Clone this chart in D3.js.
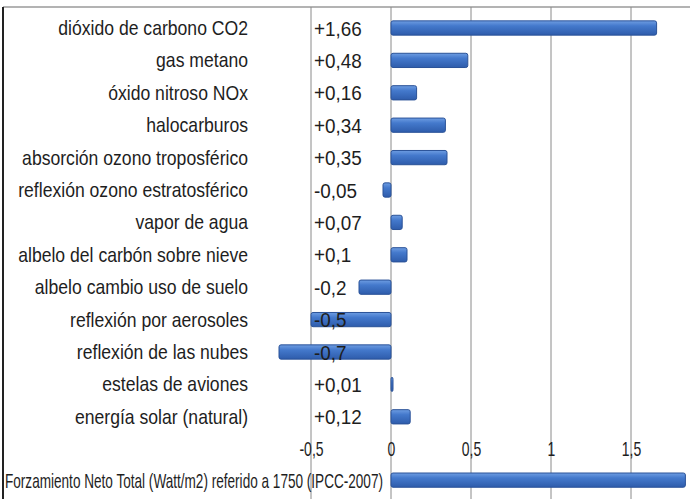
<!DOCTYPE html>
<html>
<head>
<meta charset="utf-8">
<script src="https://cdn.jsdelivr.net/npm/d3@7"></script>
<style>
    body { margin: 0; background: #fff; }
    svg { display: block; font-family: "Liberation Sans", Arial, sans-serif; }
</style>
</head>
<body>
<div id="chart"></div>
<script>
// data
const categories = [
    "dióxido de carbono CO2",
    "gas metano",
    "óxido nitroso NOx",
    "halocarburos",
    "absorción ozono troposférico",
    "reflexión ozono estratosférico",
    "vapor de agua",
    "albelo del carbón sobre nieve",
    "albelo cambio uso de suelo",
    "reflexión por aerosoles",
    "reflexión de las nubes",
    "estelas de aviones",
    "energía solar (natural)"
];
const values = [1.66, 0.48, 0.16, 0.34, 0.35, -0.05, 0.07, 0.1, -0.2, -0.5, -0.7, 0.01, 0.12];
const valueLabels = ["+1,66", "+0,48", "+0,16", "+0,34", "+0,35", "-0,05", "+0,07", "+0,1", "-0,2", "-0,5", "-0,7", "+0,01", "+0,12"];
const totalLabel = "Forzamiento Neto Total (Watt/m2) referido a 1750 (IPCC-2007)";
const totalValue = 1.84;
const tickValues = [-0.5, 0, 0.5, 1, 1.5];

const width = 690, height = 499;

let svg = d3.select("#chart")
    .append("svg")
    .attr("width", width)
    .attr("height", height);

// bar gradient (Excel 2007 look)
let grad = svg.append("defs").append("linearGradient")
    .attr("id", "barGrad")
    .attr("x1", 0).attr("y1", 0).attr("x2", 0).attr("y2", 1);
grad.append("stop").attr("offset", "0%").attr("stop-color", "#6e9de2");
grad.append("stop").attr("offset", "35%").attr("stop-color", "#4479cc");
grad.append("stop").attr("offset", "100%").attr("stop-color", "#2e5cab");

let x = d3.scaleLinear()
    .domain([-0.5, 1.5])
    .range([311, 631]);

let y = d3.scaleBand()
    .domain(categories)
    .range([11.8, 433])
    .paddingInner(0.56)
    .paddingOuter(0.28);

const totalY = 473;
const axisY = 442;

// frame
svg.append("line")
    .attr("x1", 3).attr("x2", width)
    .attr("y1", 7).attr("y2", 7)
    .attr("stroke", "#9a9a9a").attr("stroke-width", 1.5);
svg.append("line")
    .attr("x1", 3).attr("x2", 3)
    .attr("y1", 7).attr("y2", height)
    .attr("stroke", "#222").attr("stroke-width", 2);

// vertical gridlines
svg.append("g")
    .selectAll("line")
    .data(tickValues)
    .enter()
    .append("line")
    .attr("x1", d => x(d)).attr("x2", d => x(d))
    .attr("y1", 7).attr("y2", height)
    .attr("stroke", "#8a8a8a")
    .attr("stroke-width", 1);

// bars
svg.append("g")
    .selectAll("rect")
    .data(values)
    .enter()
    .append("rect")
    .attr("x", d => x(Math.min(0, d)))
    .attr("y", (d, i) => y(categories[i]))
    .attr("width", d => Math.max(2, Math.abs(x(d) - x(0))))
    .attr("height", y.bandwidth())
    .attr("rx", 2)
    .attr("fill", "url(#barGrad)")
    .attr("stroke", "#2a5298")
    .attr("stroke-width", 1);

// total bar
svg.append("rect")
    .attr("x", x(0))
    .attr("y", totalY)
    .attr("width", x(totalValue) - x(0))
    .attr("height", y.bandwidth())
    .attr("rx", 2)
    .attr("fill", "url(#barGrad)")
    .attr("stroke", "#2a5298");

// category labels (the source font is tall and a bit narrow)
svg.append("g")
    .selectAll("text")
    .data(categories)
    .enter()
    .append("text")
    .attr("transform", d => "translate(248," + (y(d) + y.bandwidth() / 2) + ") scale(0.88,1)")
    .attr("dy", "0.35em")
    .attr("text-anchor", "end")
    .attr("font-size", 20)
    .attr("fill", "#1e1e1e")
    .text(d => d);

// value labels
svg.append("g")
    .selectAll("text")
    .data(valueLabels)
    .enter()
    .append("text")
    .attr("transform", (d, i) => "translate(314," + (y(categories[i]) + y.bandwidth() / 2) + ") scale(0.9,1)")
    .attr("dy", "0.36em")
    .attr("font-size", 21)
    .attr("fill", "#1e1e1e")
    .text(d => d);

// x axis tick labels
let axis = svg.append("g")
    .attr("transform", "translate(0," + axisY + ")")
    .call(d3.axisBottom(x)
        .tickValues(tickValues)
        .tickSize(0)
        .tickPadding(0)
        .tickFormat(d => String(d).replace(".", ",")));
axis.select(".domain").remove();
axis.selectAll("text")
    .attr("font-family", "'Liberation Sans', Arial, sans-serif")
    .attr("font-size", 20)
    .attr("fill", "#1e1e1e")
    .attr("transform", "scale(0.7,1)");

// total label
svg.append("text")
    .attr("x", 5)
    .attr("y", totalY + y.bandwidth() / 2)
    .attr("dy", "0.36em")
    .attr("font-size", 21)
    .attr("textLength", 378)
    .attr("lengthAdjust", "spacingAndGlyphs")
    .attr("fill", "#1e1e1e")
    .text(totalLabel);
</script>
</body>
</html>
